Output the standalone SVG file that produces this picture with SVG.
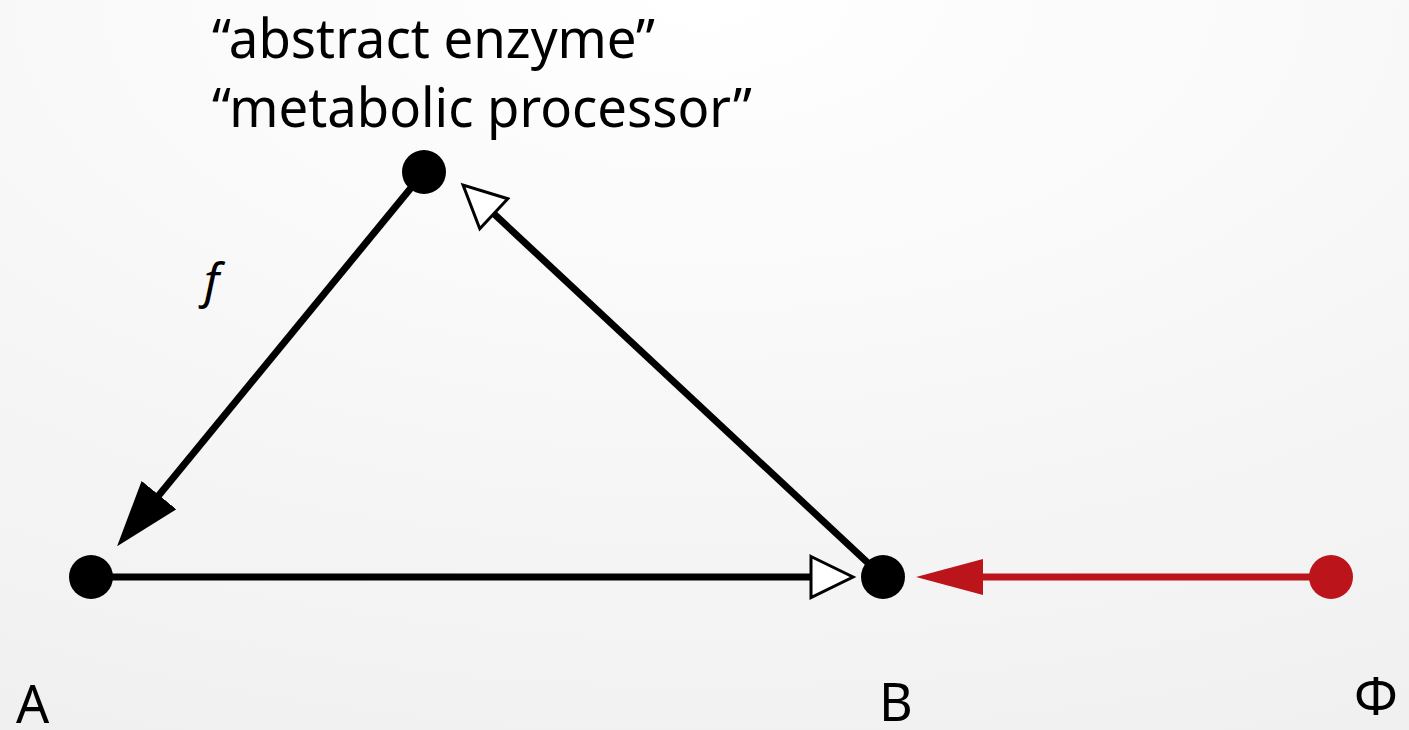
<svg xmlns="http://www.w3.org/2000/svg" width="1409" height="730" viewBox="0 0 1409 730">
<defs>
<radialGradient id="bg" cx="50%" cy="0%" r="110%" fx="50%" fy="0%">
<stop offset="0" stop-color="#ffffff"/>
<stop offset="1" stop-color="#f0f0f0"/>
</radialGradient>
<marker id="solid" markerUnits="userSpaceOnUse" viewBox="0 0 66 45" markerWidth="66" markerHeight="45" refX="5" refY="22.4" orient="auto">
<path d="M0,0 L66,22.4 L0,44.8 z" fill="#000"/>
</marker>
<marker id="open" markerUnits="userSpaceOnUse" viewBox="-3 -3 50 47" markerWidth="50" markerHeight="47" refX="12" refY="20.5" orient="auto">
<path d="M0,0 L42,20.5 L0,41 z" fill="#fff" stroke="#000" stroke-width="3"/>
</marker>
<marker id="red" markerUnits="userSpaceOnUse" viewBox="0 0 67 37" markerWidth="67" markerHeight="37" refX="5" refY="18" orient="auto">
<path d="M0,0 L67,18 L0,36 z" fill="#bb141a"/>
</marker>
</defs>
<style>
.lbl{font-family:"Noto Sans","Open Sans",sans-serif;fill:#000}
.edge{fill:none;stroke:#000;stroke-width:7}
.edge.r{stroke:#bb141a}
.node{fill:#000}
.node.r{fill:#bb141a}
</style>
<rect width="1409" height="730" fill="url(#bg)"/>
<g id="connectors">
<line class="edge" x1="424" y1="172" x2="155.8" y2="499" marker-end="url(#solid)"/>
<line class="edge" x1="92" y1="577" x2="823" y2="577" marker-end="url(#open)"/>
<line class="edge" x1="883" y1="577" x2="485" y2="205.5" marker-end="url(#open)"/>
<line class="edge r" x1="1331" y1="577" x2="978" y2="577" marker-end="url(#red)"/>
</g>
<g id="node-enzyme">
<circle class="node" cx="424" cy="172" r="22"/>
<text class="lbl" x="212" y="58" font-size="55" textLength="443" lengthAdjust="spacingAndGlyphs">“abstract enzyme”</text>
<text class="lbl" x="212" y="127" font-size="55" textLength="540" lengthAdjust="spacingAndGlyphs">“metabolic processor”</text>
</g>
<g id="node-A">
<circle class="node" cx="91" cy="577" r="22"/>
<text class="lbl" x="16" y="723" font-size="52">A</text>
</g>
<g id="node-B">
<circle class="node" cx="883" cy="577" r="22"/>
<text class="lbl" x="879" y="721" font-size="52">B</text>
</g>
<g id="node-Phi">
<circle class="node r" cx="1331" cy="577" r="22"/>
<text class="lbl" x="1354" y="715" font-size="52">Φ</text>
</g>
<g id="label-f">
<text class="lbl" x="204" y="298" font-size="48" font-style="italic">f</text>
</g>
</svg>
